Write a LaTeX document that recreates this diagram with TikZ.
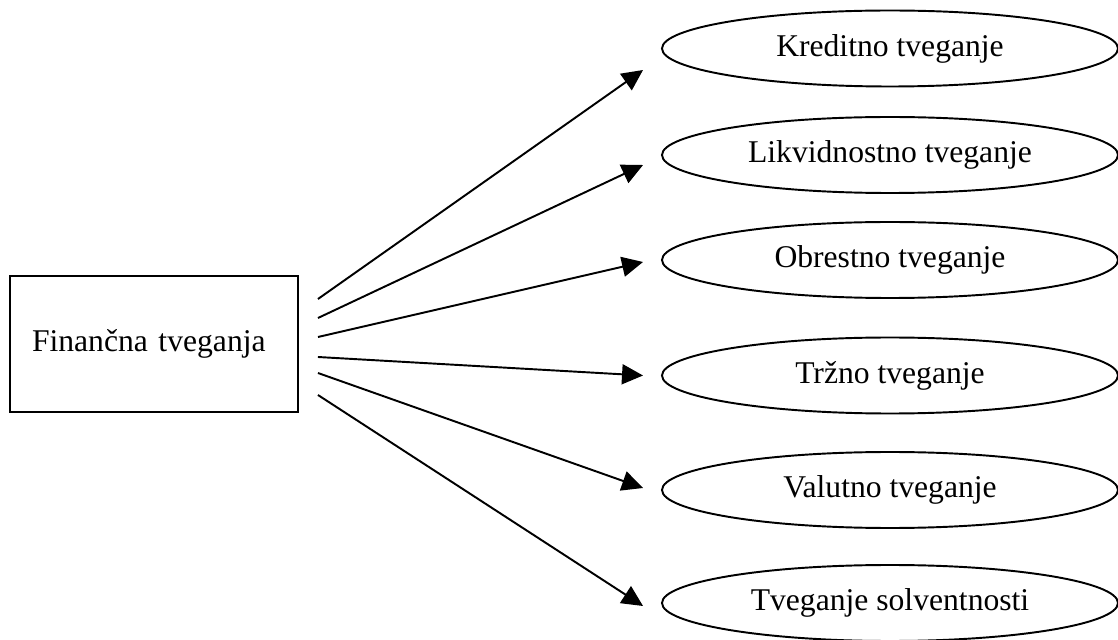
\documentclass[tikz,border=0pt]{standalone}
\usepackage{fontspec}
\setmainfont{Liberation Serif}
\usetikzlibrary{positioning,shapes.geometric,arrows.meta}
\tikzset{font=\fontsize{18}{22}\selectfont}

\begin{document}
\begin{tikzpicture}[every node/.style={line width=1.1pt},
    risk/.style={draw,ellipse,minimum width={9.12cm},minimum height={1.52cm},inner sep=0pt},
    >={Triangle[length=0.42cm,width=0.4cm]}]
      \useasboundingbox (0,0) rectangle (22.36,12.78);

      \node[draw,minimum height={2.72cm},text width={4.88cm},inner xsep={0.44cm},align=left] (Fin) at (3.08,5.90) {Finančna tveganja};

      \node[risk] (Kred) at (17.8,11.81) {Kreditno tveganje};
      \node[risk] (Likv) at (17.8,9.68) {Likvidnostno tveganje};
      \node[risk] (Obr) at (17.8,7.58) {Obrestno tveganje};
      \node[risk] (Trz) at (17.8,5.27) {Tržno tveganje};
      \node[risk] (Val) at (17.8,2.98) {Valutno tveganje};
      \node[risk] (Solv) at (17.8,0.72) {Tveganje solventnosti};

      \path [->,line width=1.1pt]([xshift=0.38cm,yshift=0.90cm]Fin.east) edge ([xshift=-0.36cm,yshift=-0.43cm]Kred.west);
      \path [->,line width=1.1pt]([xshift=0.38cm,yshift=0.52cm]Fin.east) edge ([xshift=-0.36cm,yshift=-0.20cm]Likv.west);
      \path [->,line width=1.1pt]([xshift=0.38cm,yshift=0.14cm]Fin.east) edge ([xshift=-0.36cm,yshift=-0.04cm]Obr.west);
      \path [->,line width=1.1pt]([xshift=0.38cm,yshift=-0.26cm]Fin.east) edge ([xshift=-0.36cm]Trz.west);
      \path [->,line width=1.1pt]([xshift=0.38cm,yshift=-0.58cm]Fin.east) edge ([xshift=-0.36cm,yshift=0.04cm]Val.west);
      \path [->,line width=1.1pt]([xshift=0.38cm,yshift=-1.02cm]Fin.east) edge ([xshift=-0.36cm,yshift=-0.06cm]Solv.west);
  \end{tikzpicture}
\end{document}
